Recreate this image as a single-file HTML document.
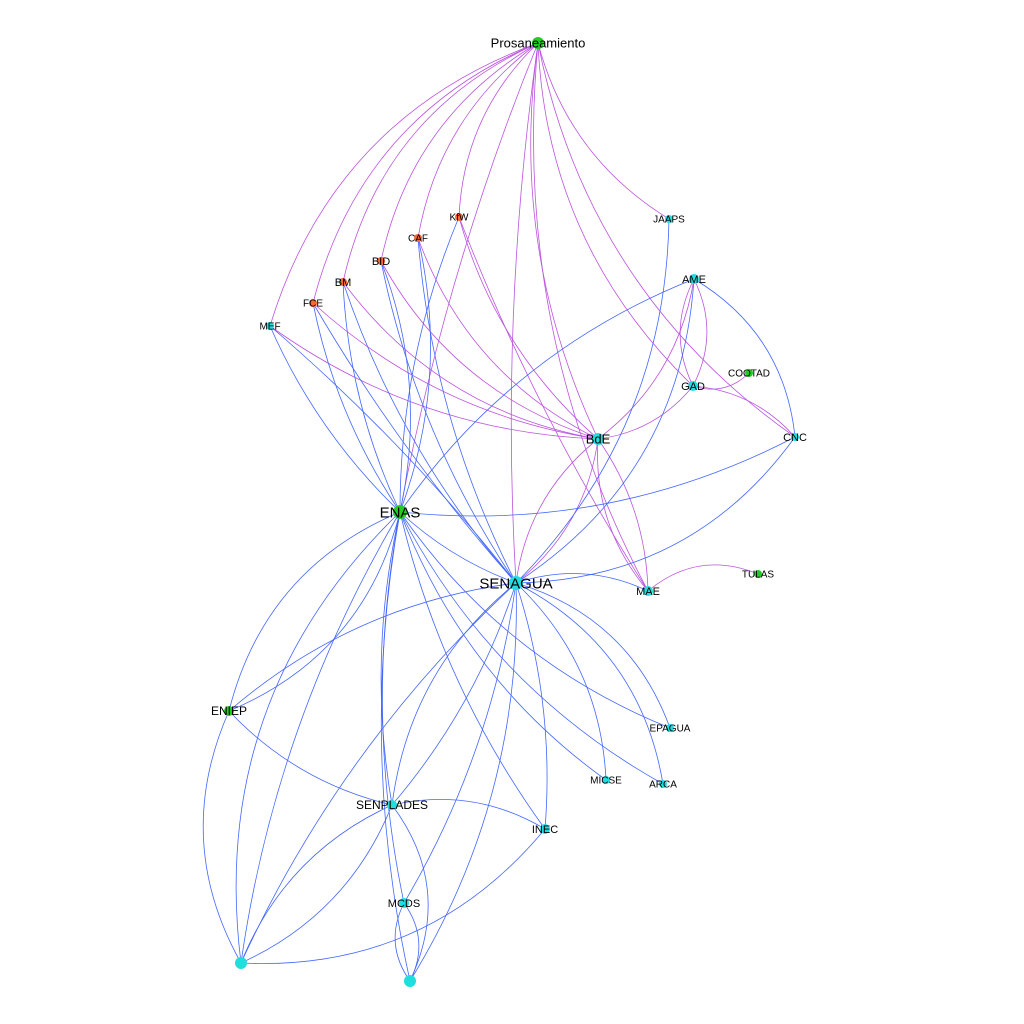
<!DOCTYPE html>
<html><head><meta charset="utf-8"><style>
html,body{margin:0;padding:0;background:#fff;}
svg{display:block}
text{font-family:"Liberation Sans",sans-serif;fill:#000;}
</style></head><body>
<svg id="g" width="1024" height="1024" viewBox="0 0 1024 1024" xmlns="http://www.w3.org/2000/svg">
<g id="edges" fill="none" stroke-width="0.8"></g>
<g id="nodes"></g>
<g id="labels"></g>
</svg>
<script>
var N={
Pros:[538,43,'#22cc22',6,'Prosaneamiento',13],
KfW:[459,217,'#ff6633',4,'KfW',10],
CAF:[418,238,'#ff6633',4,'CAF',10],
BID:[381,261,'#ff6633',4,'BID',11],
BM:[343,282,'#ff6633',4,'BM',11],
FCE:[313,303,'#ff6633',4,'FCE',10],
MEF:[270,326,'#22dddd',4,'MEF',10],
JAAPS:[669,219,'#22dddd',4,'JAAPS',10],
AME:[694,279,'#22dddd',5,'AME',11],
COOTAD:[749,373,'#22cc22',4,'COOTAD',10],
GAD:[693,386,'#22dddd',5,'GAD',11],
CNC:[795,437,'#22dddd',4,'CNC',11],
BdE:[598,439,'#22dddd',6,'BdE',13],
ENAS:[400,512,'#22cc22',7,'ENAS',15],
SENAGUA:[516,583,'#22dddd',7,'SENAGUA',15],
MAE:[648,591,'#22dddd',5,'MAE',11],
TULAS:[758,574,'#22cc22',4,'TULAS',10],
ENIEP:[229,711,'#22cc22',5,'ENIEP',12],
EPAGUA:[670,728,'#22dddd',4,'EPAGUA',10],
MICSE:[606,780,'#22dddd',4,'MICSE',10],
ARCA:[663,784,'#22dddd',4,'ARCA',10],
SENPLADES:[392,805,'#22dddd',5,'SENPLADES',12],
INEC:[545,829,'#22dddd',5,'INEC',11],
MCDS:[404,903,'#22dddd',5,'MCDS',11],
B1:[241,963,'#22dddd',6,'',0],
B2:[410,981,'#22dddd',6,'',0]
};
var P='#bb55dd',B='#4466ff';
var E=[
['Pros','MEF',P,0.25],['Pros','BM',P,0.25],['Pros','BID',P,0.22],['Pros','CAF',P,0.2],['Pros','KfW',P,0.2],
['Pros','JAAPS',P,0.2],['Pros','GAD',P,0.2],['Pros','CNC',P,0.2],['Pros','MAE',P,0.15],['Pros','SENAGUA',P,0.05],
['Pros','BdE',P,0.15],['Pros','ENAS',P,0.05],['Pros','FCE',P,0.25],
['BdE','MEF',P,-0.15],['BdE','BM',P,-0.2],['BdE','BID',P,-0.2],['BdE','CAF',P,-0.2],['BdE','KfW',P,-0.15],['BdE','FCE',P,-0.15],
['BdE','AME',P,0.2],['BdE','GAD',P,0.2],['BdE','MAE',P,0.2],['BdE','MAE',P,-0.15],['BdE','SENAGUA',P,0.2],['BdE','SENAGUA',P,-0.2],
['GAD','COOTAD',P,0.3],['GAD','CNC',P,-0.2],['AME','GAD',P,0.25],['AME','GAD',P,-0.25],['MAE','TULAS',P,-0.3],['KfW','MAE',P,0.05],
['ENAS','MEF',B,-0.1],['ENAS','FCE',B,-0.1],['ENAS','BM',B,-0.1],['ENAS','BID',B,0.15],['ENAS','CAF',B,0.15],['ENAS','KfW',B,-0.1],
['ENAS','SENAGUA',B,0.1],['ENAS','ENIEP',B,0.25],['ENAS','ENIEP',B,-0.25],['ENAS','SENPLADES',B,0.1],['ENAS','MCDS',B,0.1],
['ENAS','B1',B,0.1],['ENAS','B1',B,0.25],['ENAS','B2',B,0.1],['ENAS','CNC',B,0.15],['ENAS','AME',B,-0.15],['ENAS','EPAGUA',B,0.15],
['ENAS','MICSE',B,0.15],['ENAS','ARCA',B,0.15],['ENAS','INEC',B,0.1],
['SENAGUA','JAAPS',B,0.2],['SENAGUA','AME',B,0.25],['SENAGUA','CNC',B,0.25],['SENAGUA','MAE',B,-0.2],['SENAGUA','EPAGUA',B,-0.25],
['SENAGUA','ARCA',B,-0.25],['SENAGUA','MICSE',B,-0.2],['SENAGUA','INEC',B,-0.1],['SENAGUA','SENPLADES',B,0.2],['SENAGUA','SENPLADES',B,-0.1],
['SENAGUA','ENIEP',B,0.15],['SENAGUA','B1',B,0.1],['SENAGUA','B2',B,-0.15],['SENAGUA','MCDS',B,-0.1],
['SENAGUA','BM',B,-0.1],['SENAGUA','BID',B,-0.1],['SENAGUA','FCE',B,-0.05],['SENAGUA','MEF',B,0.05],['SENAGUA','CAF',B,-0.1],
['ENIEP','SENPLADES',B,0.15],['ENIEP','B1',B,0.25],['SENPLADES','INEC',B,-0.2],['SENPLADES','B1',B,0.2],['SENPLADES','B1',B,-0.2],
['MCDS','B2',B,0.3],['MCDS','B2',B,-0.3],['B1','INEC',B,0.25],['AME','CNC',B,-0.25],['B2','SENPLADES',B,0.3]
];
var s='';
E.forEach(function(e){var a=N[e[0]],b=N[e[1]];var mx=(a[0]+b[0])/2,my=(a[1]+b[1])/2,dx=b[0]-a[0],dy=b[1]-a[1];
var cx=mx-dy*e[3],cy=my+dx*e[3];
s+='<path d="M'+a[0]+' '+a[1]+' Q'+cx.toFixed(1)+' '+cy.toFixed(1)+' '+b[0]+' '+b[1]+'" stroke="'+e[2]+'"/>';});
document.getElementById('edges').innerHTML=s;
var n='',l='';
for(var k in N){var v=N[k];n+='<circle cx="'+v[0]+'" cy="'+v[1]+'" r="'+v[3]+'" fill="'+v[2]+'"/>';
if(v[4])l+='<text x="'+v[0]+'" y="'+(v[1]+v[5]*0.35)+'" font-size="'+v[5]+'" text-anchor="middle">'+v[4]+'</text>';}
document.getElementById('nodes').innerHTML=n;
document.getElementById('labels').innerHTML=l;
</script>
</body></html>
